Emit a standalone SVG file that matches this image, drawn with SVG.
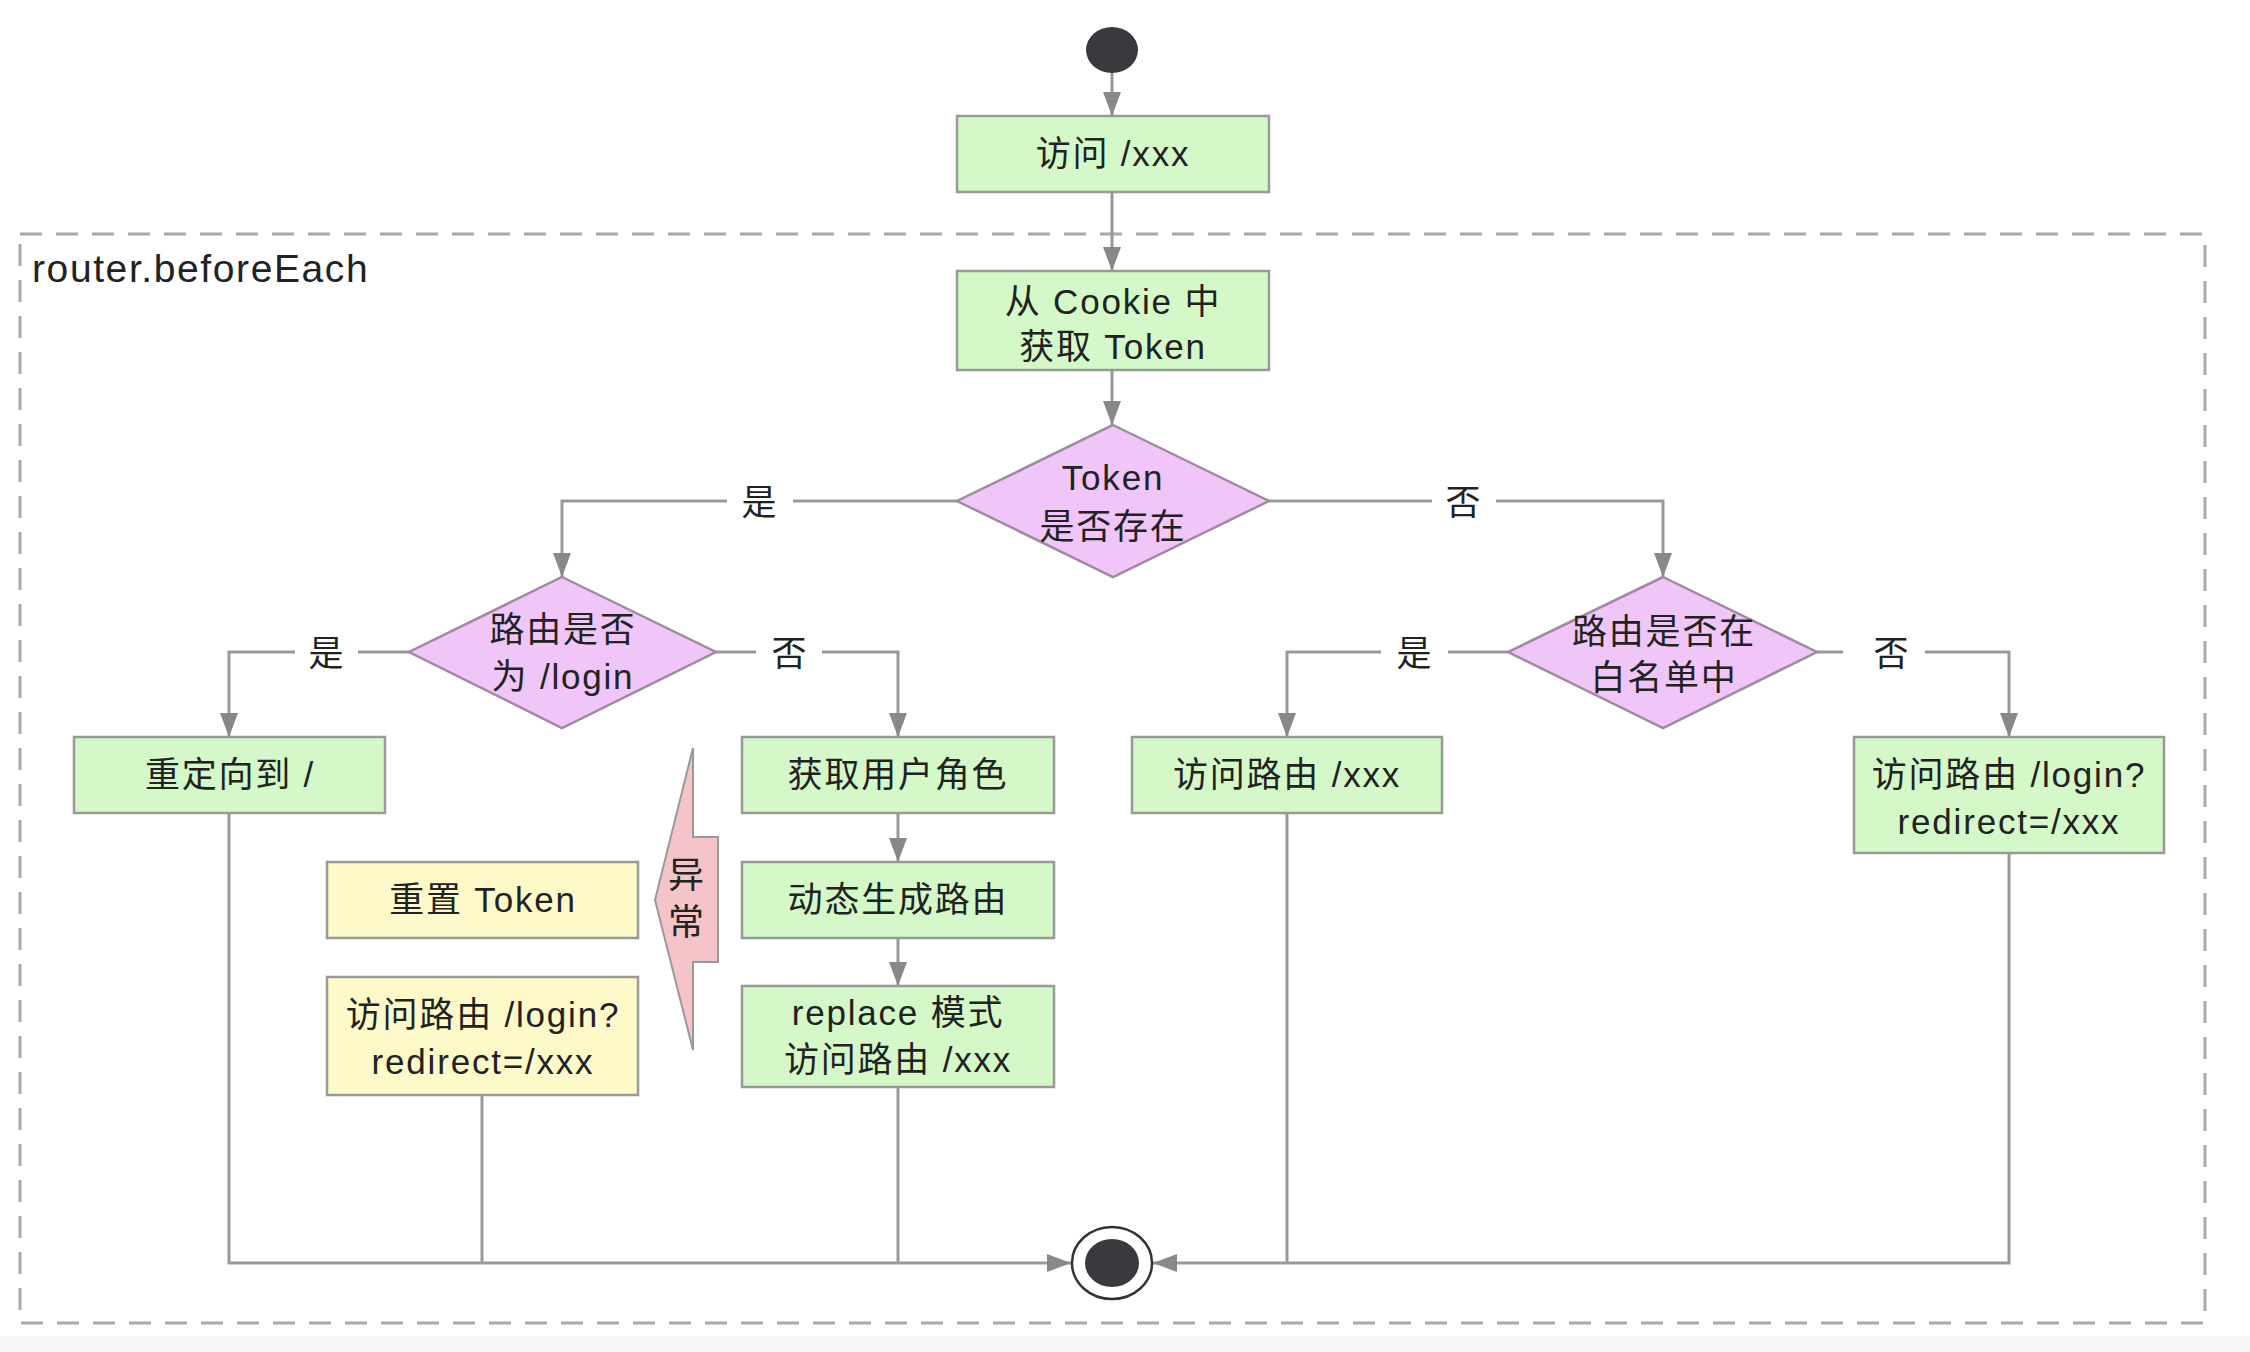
<svg xmlns="http://www.w3.org/2000/svg" width="2250" height="1352" viewBox="0 0 2250 1352">
<defs>
<style>
text{font-family:"Liberation Sans","Noto Sans CJK SC",sans-serif;font-size:35px;letter-spacing:1.8px;fill:#222;text-anchor:middle}
.g{fill:#d4f8c8;stroke:#999;stroke-width:2.5}
.y{fill:#fdf9c9;stroke:#999;stroke-width:2.5}
.d{fill:#efc6f7;stroke:#a08aa0;stroke-width:2.5}
.p{fill:#f5c4c9;stroke:#999;stroke-width:2}
.e{fill:none;stroke:#999;stroke-width:3}
.lb{fill:#fff}
.dot{fill:#3a3a3e}
</style>
<marker id="ah" viewBox="0 0 24 18" refX="24" refY="9" markerWidth="24" markerHeight="18" markerUnits="userSpaceOnUse" orient="auto">
<path d="M0,0 L24,9 L0,18 z" fill="#888"/>
</marker>
</defs>
<rect x="0" y="0" width="2250" height="1352" fill="#fff"/>
<rect x="0" y="1336" width="2250" height="16" fill="#f8f8f8"/>

<g id="frame">
<rect x="20" y="234" width="2185" height="1089" fill="none" stroke="#aaa" stroke-width="3" stroke-dasharray="22 14"/>
<text x="32" y="282" style="text-anchor:start;font-size:39px;letter-spacing:1.6px">router.beforeEach</text>
</g>

<g id="connectors">
<path class="e" d="M1112 73 V116" marker-end="url(#ah)"/>
<path class="e" d="M1112 192 V271" marker-end="url(#ah)"/>
<path class="e" d="M1112 370 V425" marker-end="url(#ah)"/>
<path class="e" d="M957 501 H562 V577" marker-end="url(#ah)"/>
<path class="e" d="M1269 501 H1663 V577" marker-end="url(#ah)"/>
<path class="e" d="M409 652 H229 V737" marker-end="url(#ah)"/>
<path class="e" d="M716 652 H898 V737" marker-end="url(#ah)"/>
<path class="e" d="M1508 652 H1287 V737" marker-end="url(#ah)"/>
<path class="e" d="M1817 652 H2009 V737" marker-end="url(#ah)"/>
<path class="e" d="M898 813 V862" marker-end="url(#ah)"/>
<path class="e" d="M898 938 V986" marker-end="url(#ah)"/>
<path class="e" d="M229 813 V1263 H1071" marker-end="url(#ah)"/>
<path class="e" d="M482 1095 V1263"/>
<path class="e" d="M898 1087 V1263"/>
<path class="e" d="M2009 853 V1263 H1153" marker-end="url(#ah)"/>
<path class="e" d="M1287 813 V1263"/>
<rect class="lb" x="727" y="485" width="66" height="34"/>
<text x="760" y="515">是</text>
<rect class="lb" x="1432" y="485" width="64" height="34"/>
<text x="1464" y="515">否</text>
<rect class="lb" x="295" y="636" width="63" height="34"/>
<text x="327" y="666">是</text>
<rect class="lb" x="756" y="636" width="66" height="34"/>
<text x="790" y="666">否</text>
<rect class="lb" x="1381" y="636" width="67" height="34"/>
<text x="1415" y="666">是</text>
<rect class="lb" x="1843" y="636" width="82" height="34"/>
<text x="1892" y="666">否</text>
</g>

<g id="start"><ellipse class="dot" cx="1112" cy="50" rx="26" ry="23"/></g>

<g id="n-visit">
<rect class="g" x="957" y="116" width="312" height="76"/>
<text x="1113" y="166">访问 /xxx</text>
</g>

<g id="n-cookie">
<rect class="g" x="957" y="271" width="312" height="99"/>
<text x="1113" y="314">从 Cookie 中</text>
<text x="1113" y="359">获取 Token</text>
</g>

<g id="d-token">
<polygon class="d" points="1113,425 1269,501 1113,577 957,501"/>
<text x="1113" y="490">Token</text>
<text x="1113" y="539">是否存在</text>
</g>

<g id="d-login">
<polygon class="d" points="562,577 716,652 562,728 409,652"/>
<text x="563" y="642">路由是否</text>
<text x="563" y="689">为 /login</text>
</g>

<g id="d-white">
<polygon class="d" points="1663,577 1817,652 1663,728 1508,652"/>
<text x="1664" y="644">路由是否在</text>
<text x="1664" y="690">白名单中</text>
</g>

<g id="n-redirect">
<rect class="g" x="74" y="737" width="311" height="76"/>
<text x="230" y="787">重定向到 /</text>
</g>

<g id="n-role">
<rect class="g" x="742" y="737" width="312" height="76"/>
<text x="898" y="787">获取用户角色</text>
</g>

<g id="n-dynamic">
<rect class="g" x="742" y="862" width="312" height="76"/>
<text x="898" y="912">动态生成路由</text>
</g>

<g id="n-replace">
<rect class="g" x="742" y="986" width="312" height="101"/>
<text x="898" y="1025">replace 模式</text>
<text x="898" y="1072">访问路由 /xxx</text>
</g>

<g id="n-reset">
<rect class="y" x="327" y="862" width="311" height="76"/>
<text x="483" y="912">重置 Token</text>
</g>

<g id="n-relogin">
<rect class="y" x="327" y="977" width="311" height="118"/>
<text x="483" y="1027">访问路由 /login?</text>
<text x="483" y="1074">redirect=/xxx</text>
</g>

<g id="n-exception">
<polygon class="p" points="693,748 693,837 718,837 718,962 693,962 693,1050 655,900"/>
<text x="686" y="888" style="letter-spacing:0;font-size:36px">异</text>
<text x="686" y="935" style="letter-spacing:0;font-size:36px">常</text>
</g>

<g id="n-visit-route">
<rect class="g" x="1132" y="737" width="310" height="76"/>
<text x="1287" y="787">访问路由 /xxx</text>
</g>

<g id="n-login">
<rect class="g" x="1854" y="737" width="310" height="116"/>
<text x="2009" y="787">访问路由 /login?</text>
<text x="2009" y="834">redirect=/xxx</text>
</g>

<g id="end">
<ellipse cx="1112" cy="1263" rx="40" ry="36" fill="#fff" stroke="#333" stroke-width="2.5"/>
<ellipse class="dot" cx="1112" cy="1263" rx="27" ry="24"/>
</g>
</svg>
